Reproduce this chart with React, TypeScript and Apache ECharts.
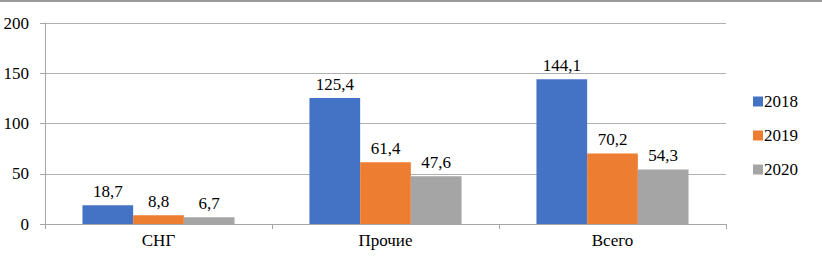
import React, { useEffect, useRef } from "react";
import * as echarts from "echarts";

const categories = ["СНГ", "Прочие", "Всего"];
const seriesNames = ["2018", "2019", "2020"];
const values2018 = [18.7, 125.4, 144.1];
const values2019 = [8.8, 61.4, 70.2];
const values2020 = [6.7, 47.6, 54.3];
const colors = ["#4472C4", "#ED7D31", "#A5A5A5"];

const FONT = "'Liberation Serif', 'Times New Roman', serif";

export default function App() {
  const ref = useRef<HTMLDivElement>(null);
  useEffect(() => {
    if (!ref.current) return;
    const chart = echarts.init(ref.current, undefined, { renderer: "svg" });
    const data = [values2018, values2019, values2020];
    chart.setOption({
      animation: false,
      backgroundColor: "#ffffff",
      textStyle: { fontFamily: FONT },
      graphic: [
        {
          type: "rect",
          left: 0,
          top: 0,
          shape: { width: 822, height: 2 },
          style: { fill: "#9a9a9a" },
        },
      ],
      grid: { left: 45, right: 96, top: 23, bottom: 36, containLabel: false },
      legend: {
        orient: "vertical",
        left: 753,
        top: 93,
        padding: 0,
        itemWidth: 10,
        itemHeight: 10,
        itemGap: 17,
        icon: "rect",
        textStyle: { fontFamily: FONT, fontSize: 17, color: "#000", padding: [0, 0, 0, -4] },
        data: seriesNames,
      },
      xAxis: {
        type: "category",
        data: categories,
        axisLine: { show: true, lineStyle: { color: "#a6a6a6", width: 1 } },
        axisTick: { show: true, length: 5, lineStyle: { color: "#a6a6a6" } },
        axisLabel: { color: "#000", fontFamily: FONT, fontSize: 17, margin: 8 },
      },
      yAxis: {
        type: "value",
        min: 0,
        max: 200,
        interval: 50,
        axisLine: { show: true, lineStyle: { color: "#a6a6a6", width: 1 } },
        axisTick: { show: true, length: 5, lineStyle: { color: "#a6a6a6" } },
        axisLabel: { color: "#000", fontFamily: FONT, fontSize: 17, margin: 16 },
        splitLine: { show: true, lineStyle: { color: "#b0b0b0", width: 1 } },
      },
      series: seriesNames.map((name, i) => ({
        name,
        type: "bar",
        data: data[i],
        barGap: "0%",
        barCategoryGap: "33%",
        itemStyle: { color: colors[i] },
        label: {
          show: true,
          position: "top",
          distance: 5,
          color: "#000",
          fontFamily: FONT,
          fontSize: 17,
          formatter: (p: any) => String(p.value).replace(".", ","),
        },
      })),
    });
    return () => chart.dispose();
  }, []);
  return (
    <div
      ref={ref}
      style={{ position: "fixed", left: 0, top: 0, width: 822, height: 260 }}
    />
  );
}
